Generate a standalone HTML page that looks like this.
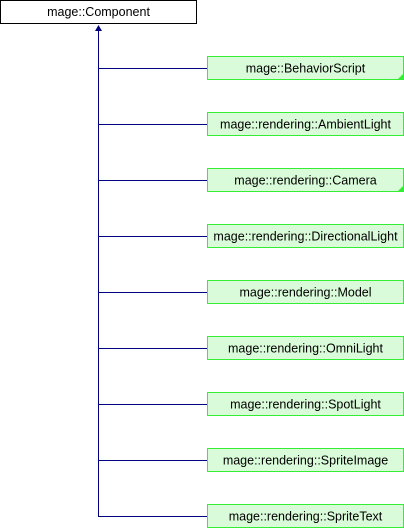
<!DOCTYPE html>
<html><head><meta charset="utf-8"><style>
html,body{margin:0;padding:0;background:#fff;width:404px;height:528px;overflow:hidden}
svg{display:block}
text{font-family:"Liberation Sans",Arial,sans-serif;font-size:12.5px;fill:#000}
</style></head><body>
<svg width="404" height="528" xmlns="http://www.w3.org/2000/svg">
<rect x="0.5" y="0.5" width="196" height="23" fill="#fff" stroke="#000"/>
<text x="98.5" y="16" text-anchor="middle">mage::Component</text>
<line x1="98.5" y1="29" x2="98.5" y2="516.5" stroke="#000080" stroke-width="1"/>
<polygon points="98.5,25 95,31 102,31" fill="#000080"/>
<g stroke="#000080">
<line x1="98" y1="68.5" x2="207" y2="68.5"/>
<line x1="98" y1="124.5" x2="207" y2="124.5"/>
<line x1="98" y1="180.5" x2="207" y2="180.5"/>
<line x1="98" y1="236.5" x2="207" y2="236.5"/>
<line x1="98" y1="292.5" x2="207" y2="292.5"/>
<line x1="98" y1="348.5" x2="207" y2="348.5"/>
<line x1="98" y1="404.5" x2="207" y2="404.5"/>
<line x1="98" y1="460.5" x2="207" y2="460.5"/>
<line x1="98" y1="516.5" x2="207" y2="516.5"/>
</g>
<g fill="#d9fbd9" stroke="#33ee33">
<rect x="207.5" y="56.5" width="196" height="23"/>
<rect x="207.5" y="112.5" width="196" height="23"/>
<rect x="207.5" y="168.5" width="196" height="23"/>
<rect x="207.5" y="224.5" width="196" height="23"/>
<rect x="207.5" y="280.5" width="196" height="23"/>
<rect x="207.5" y="336.5" width="196" height="23"/>
<rect x="207.5" y="392.5" width="196" height="23"/>
<rect x="207.5" y="448.5" width="196" height="23"/>
<rect x="207.5" y="504.5" width="196" height="23"/>
</g>
<polygon points="404,73 404,80 397,80" fill="#33ee33"/>
<polygon points="404,185 404,192 397,192" fill="#33ee33"/>
<g text-anchor="middle">
<text x="305.5" y="72.5">mage::BehaviorScript</text>
<text x="305.5" y="128.5">mage::rendering::AmbientLight</text>
<text x="305.5" y="184.5">mage::rendering::Camera</text>
<text x="305.5" y="240.5">mage::rendering::DirectionalLight</text>
<text x="305.5" y="296.5">mage::rendering::Model</text>
<text x="305.5" y="352.5">mage::rendering::OmniLight</text>
<text x="305.5" y="408.5">mage::rendering::SpotLight</text>
<text x="305.5" y="464.5">mage::rendering::SpriteImage</text>
<text x="305.5" y="520.5">mage::rendering::SpriteText</text>
</g>
</svg>
</body></html>
